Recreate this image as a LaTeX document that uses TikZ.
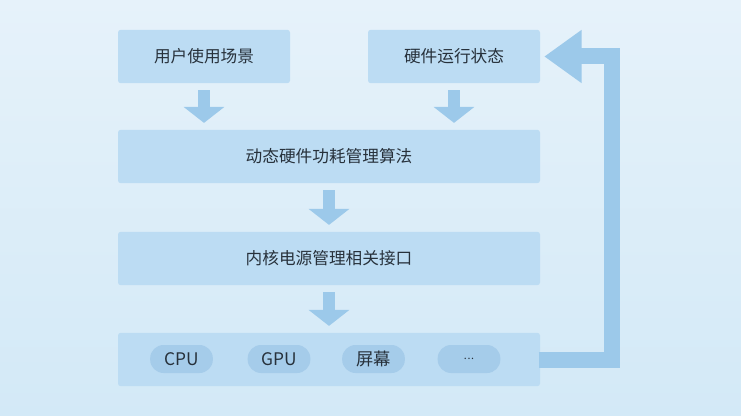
\documentclass[tikz,border=0pt]{standalone}
\usepackage{fontspec}
\setmainfont{Noto Sans CJK SC}
\usetikzlibrary{arrows.meta, positioning}
\definecolor{bgtop}{HTML}{E6F2FA}
\definecolor{bgbot}{HTML}{D3E9F7}
\definecolor{boxfill}{HTML}{BCDCF3}
\definecolor{pillfill}{HTML}{A5CCEA}
\definecolor{arrowfill}{HTML}{9CC9EA}
\definecolor{txt}{HTML}{27313B}
\tikzset{
  block/.style={rectangle, rounded corners=2pt, fill=boxfill, text=txt, font=\fontsize{12.5}{14}\selectfont, minimum height=40pt, inner sep=0pt},
  pill/.style={rectangle, rounded corners=10pt, fill=pillfill, text=txt, font=\fontsize{13}{15}\selectfont, minimum width=47pt, minimum height=21pt, inner sep=0pt},
  flow/.style={arrowfill, line width=9pt, -{Triangle[width=30pt, length=12pt]}, shorten <=5pt, shorten >=5pt},
  back/.style={arrowfill, line width=12pt, line join=miter, -{Triangle[width=38pt, length=28pt]}}
}
\begin{document}
\begin{tikzpicture}[x=0.75pt, y=-0.75pt]
\shade[top color=bgtop, bottom color=bgbot] (0,0) rectangle (741,416);
\useasboundingbox (0,0) rectangle (741,416);

\node[block, minimum width=129pt] (scene) at (204,56.5) {用户使用场景};
\node[block, minimum width=129pt] (state) at (454,56.5) {硬件运行状态};
\node[block, minimum width=316.5pt] (algo) at (329,156.5) {动态硬件功耗管理算法};
\node[block, minimum width=316.5pt] (kernel) at (329,258.5) {内核电源管理相关接口};
\node[block, minimum width=316.5pt] (hw) at (329,359.5) {};

\node[pill] (cpu) at (181.5,359) {CPU};
\node[pill] (gpu) at (279,359) {GPU};
\node[pill] (screen) at (373.5,359) {屏幕};
\node[pill, font=\fontsize{8}{9}\selectfont] (more) at (469,359) {.\kern0.5pt.\kern0.5pt.};

\draw[flow] (scene.south) -- (scene.south |- algo.north);
\draw[flow] (state.south) -- (state.south |- algo.north);
\draw[flow] (algo.south) -- (kernel.north);
\draw[flow] (kernel.south) -- (hw.north);

\coordinate (turn) at (612,0);
\draw[back] ([xshift=-1pt]hw.east) -- (hw.east -| turn) -- (state.east -| turn) -- ([xshift=3pt]state.east);
\end{tikzpicture}
\end{document}
